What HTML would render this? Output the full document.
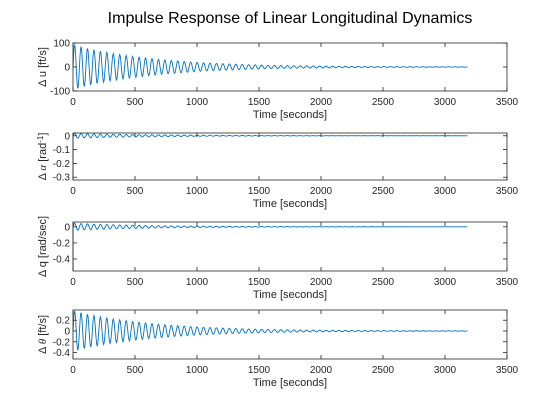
<!DOCTYPE html>
<html><head><meta charset="utf-8"><style>
body{margin:0;background:#fff;}
svg{display:block;font-family:"Liberation Sans",sans-serif;}
</style></head><body>
<svg id="chart" width="560" height="420" viewBox="0 0 560 420" xmlns="http://www.w3.org/2000/svg">
<rect width="560" height="420" fill="#fff"/>
<text x="290" y="23" text-anchor="middle" font-size="16" fill="#000">Impulse Response of Linear Longitudinal Dynamics</text>
</svg>
<script>
// data: envelope amplitude at every 100 s (t = 0..3100) for each response
const xTicks = [0, 500, 1000, 1500, 2000, 2500, 3000, 3500];
const envTimes = [0,100,200,300,400,500,600,700,800,900,1000,1100,1200,1300,1400,1500,1600,1700,1800,1900,2000,2100,2200,2300,2400,2500,2600,2700,2800,2900,3000,3100];
const uEnv = [95,80,68,58,50,43,37,31,27,23,19,16,14,12,10,8.5,7,6,5,4.5,4,3.3,2.8,2.4,2,1.7,1.5,1.3,1.1,1,0.9,0.8];
const aEnv = [0.018,0.015,0.013,0.011,0.01,0.009,0.008,0.007,0.006,0.005,0.004,0.0035,0.003,0.0025,0.002,0.0018,0.0015,0.0013,0.0011,0.001,0.0009,0.0008,0.0007,0.0006,0.0005,0.0005,0.0004,0.0004,0.0003,0.0003,0.0003,0.0002];
const qEnv = [0.045,0.038,0.032,0.027,0.023,0.02,0.017,0.014,0.012,0.01,0.009,0.0075,0.0065,0.0055,0.0045,0.004,0.0033,0.0028,0.0024,0.002,0.0018,0.0015,0.0013,0.0011,0.001,0.0008,0.0007,0.0006,0.0005,0.0005,0.0004,0.0004];
const thEnv = [0.38,0.32,0.27,0.23,0.2,0.17,0.145,0.125,0.105,0.09,0.076,0.065,0.055,0.047,0.04,0.034,0.028,0.024,0.02,0.018,0.016,0.013,0.011,0.0095,0.008,0.007,0.006,0.005,0.0045,0.004,0.0035,0.003];
const initialValues = [0, -0.32, -0.55, 0];
const period = 52;
const tEnd = 3185;

const svg = document.getElementById('chart');
const NS = 'http://www.w3.org/2000/svg';
const X0 = 73, X1 = 507;
const panels = [
  {name:'u', top:43, bot:91, ymin:-100, ymax:100, ticks:[-100,0,100], labels:['-100','0','100'], env:uEnv, init:initialValues[0]},
  {name:'alpha', top:133, bot:180, ymin:-0.32, ymax:0.02, ticks:[-0.3,-0.2,-0.1,0], labels:['-0.3','-0.2','-0.1','0'], env:aEnv, init:initialValues[1]},
  {name:'q', top:222, bot:271, ymin:-0.55, ymax:0.06, ticks:[-0.4,-0.2,0], labels:['-0.4','-0.2','0'], env:qEnv, init:initialValues[2]},
  {name:'theta', top:310, bot:359, ymin:-0.52, ymax:0.39, ticks:[-0.4,-0.2,0,0.2], labels:['-0.4','-0.2','0','0.2'], env:thEnv, init:initialValues[3]}
];
const ylabels = [
  '<tspan>Δ u [ft/s]</tspan>',
  '<tspan>Δ </tspan><tspan font-family="Liberation Serif" font-style="italic">α</tspan><tspan> [rad</tspan><tspan dy="-3" font-size="8">-1</tspan><tspan dy="3">]</tspan>',
  '<tspan>Δ q [rad/sec]</tspan>',
  '<tspan>Δ </tspan><tspan font-family="Liberation Serif" font-style="italic">θ</tspan><tspan> [ft/s]</tspan>'
];
const xs = t => X0 + (t - 0) / 3500 * (X1 - X0);
function envAt(env, t){
  const i = Math.min(Math.floor(t/100), envTimes.length-2);
  const f = (t - envTimes[i]) / 100;
  return env[i] + (env[i+1]-env[i]) * Math.min(f,1);
}
function el(tag, attrs){ const e = document.createElementNS(NS, tag); for (const k in attrs) e.setAttribute(k, attrs[k]); svg.appendChild(e); return e; }

panels.forEach((p, pi) => {
  const ys = v => p.bot - (v - p.ymin) / (p.ymax - p.ymin) * (p.bot - p.top);
  let pts = [];
  pts.push([xs(0), ys(p.init)]);
  if (p.init !== 0) pts.push([xs(0), ys(0)]);
  const step = period/12;
  for (let t = 0; t <= tEnd; t += step) {
    const s = Math.sin(2*Math.PI*t/period);
    pts.push([xs(t), ys(s*envAt(p.env, t))]);
  }
  const line = el('polyline', {points: pts.map(q=>q[0].toFixed(2)+','+q[1].toFixed(2)).join(' '), fill:'none', stroke:'#0072BD', 'stroke-width':'0.9'});
  
  
  const box = el('rect', {x:X0, y:p.top, width:X1-X0, height:p.bot-p.top, fill:'none', stroke:'#262626', 'stroke-width':'0.8'});
  
  
  xTicks.forEach(t => {
    const x = xs(t);
    el('line', {x1:x, x2:x, y1:p.bot, y2:p.bot-4, stroke:'#262626', 'stroke-width':'0.8'});
    el('line', {x1:x, x2:x, y1:p.top, y2:p.top+4, stroke:'#262626', 'stroke-width':'0.8'});
    const tx = el('text', {x:x, y:p.bot+14, 'text-anchor':'middle', 'font-size':'10', fill:'#262626'});
    tx.textContent = t;
    
    
  });
  p.ticks.forEach((v, i) => {
    const y = ys(v);
    el('line', {x1:X0, x2:X0+4, y1:y, y2:y, stroke:'#262626', 'stroke-width':'0.8'});
    el('line', {x1:X1, x2:X1-4, y1:y, y2:y, stroke:'#262626', 'stroke-width':'0.8'});
    const ty = el('text', {x:X0-3, y:y+3.5, 'text-anchor':'end', 'font-size':'10', fill:'#262626'});
    ty.textContent = p.labels[i];
    
    
  });
  const xl = el('text', {x:(X0+X1)/2, y:p.bot+27, 'text-anchor':'middle', 'font-size':'11', fill:'#262626'});
  xl.textContent = 'Time [seconds]';
  
  
  const cy = (p.top+p.bot)/2;
  const yl = el('text', {x:0, y:0, 'text-anchor':'middle', 'font-size':'11', fill:'#262626', transform:'translate(46,'+cy+') rotate(-90)'});
  yl.innerHTML = ylabels[pi];
  
  
});
</script>
</body></html>
